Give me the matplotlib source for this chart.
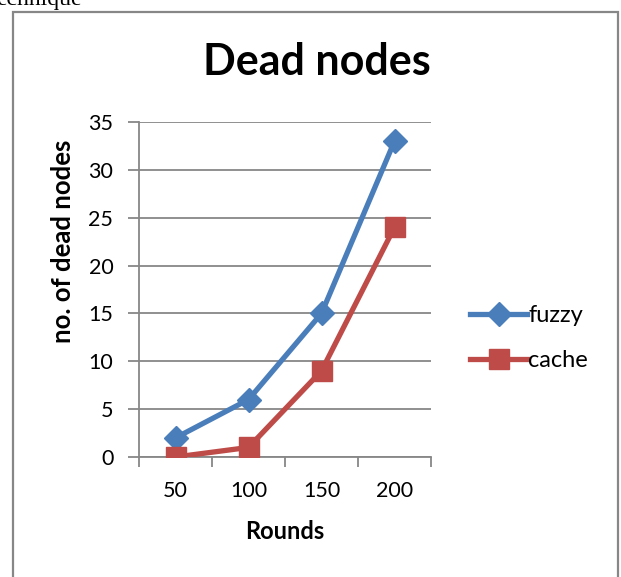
import matplotlib.pyplot as plt
from matplotlib.patches import Rectangle
from matplotlib.ticker import FixedLocator

rounds = ['50', '100', '150', '200']
fuzzy = [2, 6, 15, 33]
cache = [0, 1, 9, 24]

plt.rcParams['font.family'] = ['Lato', 'DejaVu Sans']

W, H = 621, 577
fig = plt.figure(figsize=(W / 100, H / 100), dpi=100)
fig.patch.set_facecolor('white')

# chart box border (bottom edge runs off the page)
fig.patches.append(Rectangle((13 / W, -0.05), (618 - 13) / W, 1.05 - 12 / H,
                             transform=fig.transFigure, fill=False,
                             edgecolor='#878787', linewidth=1.6))
fig.text(-4 / W, 1 - 5 / H, 'echnique', family='Liberation Serif', fontsize=17,
         va='baseline', ha='left')

ax = fig.add_axes([139 / W, 1 - 457 / H, (431 - 139) / W, (457 - 122) / H])
x = list(range(len(rounds)))

ax.plot(x, fuzzy, color='#4A7EBB', lw=3.8, marker='D', ms=12, label='fuzzy', zorder=3)
ax.plot(x, cache, color='#BE4B48', lw=3.8, marker='s', ms=14.5, label='cache', zorder=3)

ax.set_xlim(-0.5, 3.5)
ax.set_ylim(0, 35)
ax.set_yticks(range(0, 36, 5))
ax.set_xticks(x)
ax.set_xticklabels(rounds)
ax.xaxis.set_minor_locator(FixedLocator([-0.5, 0.5, 1.5, 2.5, 3.5]))
ax.tick_params(axis='x', which='major', length=0, pad=17, labelsize=15.5)
ax.tick_params(axis='x', which='minor', length=7, width=1.3, color='#878787', direction='out')
ax.tick_params(axis='y', length=8, width=1.3, color='#878787', pad=10.5, labelsize=15.5)

ax.grid(axis='y', color='#878787', linewidth=1.3)
ax.set_axisbelow(True)
for s in ['top', 'right']:
    ax.spines[s].set_visible(False)
for s in ['left', 'bottom']:
    ax.spines[s].set_color('#878787')
    ax.spines[s].set_linewidth(1.3)

fig.text(317 / W, 1 - 75 / H, 'Dead nodes', fontsize=31, fontweight='bold',
         ha='center', va='baseline')
ax.set_xlabel('Rounds', fontsize=17, fontweight='bold', labelpad=14)
ax.set_ylabel('no. of dead nodes', fontsize=18.5, fontweight='bold', va='center')
ax.yaxis.set_label_coords((63 - 139) / 292, (457 - 241) / 335)

fig.legend(loc='upper left', bbox_to_anchor=(461 / W, 1 - 296 / H), frameon=False,
           fontsize=17, handlelength=2.4, handletextpad=0.05, labelspacing=1.0,
           borderaxespad=0)

fig.savefig('out.png', dpi=100)
